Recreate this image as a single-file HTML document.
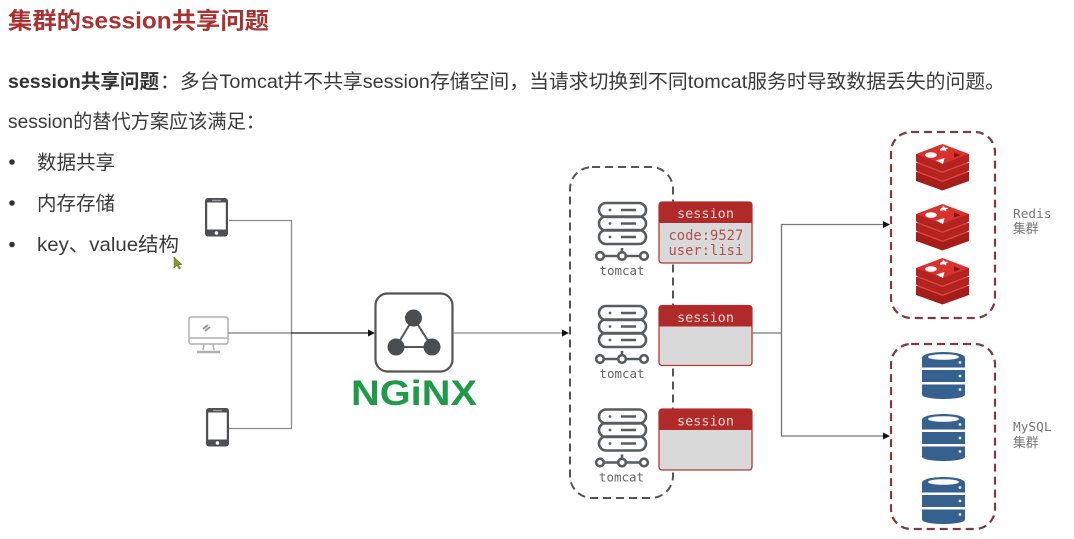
<!DOCTYPE html>
<html><head><meta charset="utf-8"><style>
html,body{margin:0;padding:0;background:#fff;width:1074px;height:539px;overflow:hidden}
svg{display:block;filter:blur(.35px)}
.s{font-family:"Liberation Sans","Noto Sans CJK SC",sans-serif}
.m{font-family:"DejaVu Sans Mono","Liberation Mono","Noto Sans CJK SC",monospace}
</style></head><body>
<svg width="1074" height="539" viewBox="0 0 1074 539" xmlns="http://www.w3.org/2000/svg">
<defs>
<g id="phone"><rect x="0" y="0" width="23" height="38.500" rx="3" fill="#4d4f52"/><rect x="2.200" y="4.500" width="18.600" height="27" fill="#fff"/><rect x="7" y="1.800" width="9" height="1.400" fill="#999"/><circle cx="11.500" cy="35" r="1.800" fill="#fff"/></g>
<g id="tom" fill="none" stroke="#595c5f" stroke-width="2.600">
<rect x="599" y="203" width="47" height="14" rx="7"/><rect x="599" y="216.500" width="47" height="14" rx="7"/><rect x="599" y="230" width="47" height="14" rx="7"/>
<path d="M622 248v4M604.500 256h13M626.500 256h13"/><circle cx="600" cy="256" r="3.800"/><circle cx="622" cy="256" r="3.800"/><circle cx="644" cy="256" r="3.800"/>
<path d="M621 210h15M621 223.500h15M621 237h15"/>
<g fill="#595c5f" stroke="none"><circle cx="610" cy="210" r="1.400"/><circle cx="610" cy="223.500" r="1.400"/><circle cx="610" cy="237" r="1.400"/></g>
</g>
<g id="redis">
<path d="M0 28v9l26.500 9.500L53 37v-9z" fill="#a51e1a"/>
<path d="M0 28l26.500-10L53 28 26.500 38z" fill="#e0443c"/>
<path d="M0 19v7.500l26.500 10 26.500-10V19z" fill="#b32420"/>
<path d="M0 19L26.500 9 53 19 26.500 29z" fill="#e0443c"/>
<path d="M0 10v7.500l26.500 10 26.500-10V10z" fill="#b32420"/>
<path d="M0 10L26.500 0 53 10 26.500 20z" fill="#d9312b"/>
<ellipse cx="15" cy="11" rx="5.800" ry="2.800" fill="#fff"/>
<path d="M24 5l2.500-1.500L27 1.500l2 2 3.500.5-2.500 1.500.5 2-3-1.200-3 .700z" fill="#fff"/>
<path d="M20 16.500l8.500-2.500-1.500 6z" fill="#fff"/>
<path d="M38 8.500l6.500 2.500-6.500 2.500z" fill="#7e1512"/>
</g>
<g id="db">
<path d="M0 6C0-2 43-2 43 6v9.500H0z" fill="#36618f"/>
<ellipse cx="21.500" cy="5" rx="15.500" ry="2.800" fill="#fff"/>
<rect x="0" y="18" width="43" height="12" fill="#36618f"/>
<path d="M0 32.500h43v10c0 6-43 6-43 0z" fill="#36618f"/>
<circle cx="38" cy="10.500" r="1.400" fill="#e6ecf3"/><circle cx="38" cy="24" r="1.400" fill="#e6ecf3"/><circle cx="38" cy="37.500" r="1.400" fill="#e6ecf3"/>
</g>
</defs>

<text class="s" x="8" y="28.500" font-size="23" font-weight="700" fill="#a83232" textLength="261" lengthAdjust="spacingAndGlyphs">集群的session共享问题</text>
<text class="s" x="8" y="88" font-size="19.500" font-weight="700" fill="#333" textLength="151" lengthAdjust="spacingAndGlyphs">session共享问题</text>
<text class="s" x="160" y="88" font-size="19.500" fill="#3a3a3a" textLength="845" lengthAdjust="spacingAndGlyphs">：多台Tomcat并不共享session存储空间，当请求切换到不同tomcat服务时导致数据丢失的问题。</text>
<text class="s" x="8" y="128" font-size="19.500" fill="#3a3a3a" textLength="257" lengthAdjust="spacingAndGlyphs">session的替代方案应该满足：</text>
<circle cx="12" cy="162" r="2.800" fill="#333"/><circle cx="12" cy="203" r="2.800" fill="#333"/><circle cx="12" cy="244.500" r="2.800" fill="#333"/>
<text class="s" x="37" y="169" font-size="19.500" fill="#3a3a3a" textLength="78">数据共享</text>
<text class="s" x="37" y="210" font-size="19.500" fill="#3a3a3a" textLength="78">内存存储</text>
<text class="s" x="37" y="251" font-size="19.500" fill="#3a3a3a" textLength="142" lengthAdjust="spacingAndGlyphs">key、value结构</text>
<path d="M174 257v11l3-2.500 2 3.500 1.500-.8-2-3.300 3.500-.4z" fill="#8a9a2a" stroke="#55601a" stroke-width=".5"/>

<!-- clients -->
<use href="#phone" x="205" y="198"/><use href="#phone" x="206" y="408"/>
<g fill="none" stroke="#b0b0b0" stroke-width="1.500">
<rect x="189" y="317" width="39" height="27" rx="2"/><path d="M189 338h39M204 344l-1 6M213 344l1 6"/><path d="M197 352h23" stroke-width="2.500"/>
<path d="M203 329l5-4M205 331l5-4" stroke="#999" stroke-width="2"/>
</g>
<path d="M229 220.500h62.500v208H229" fill="none" stroke="#8c8c8c" stroke-width="1.300"/>
<path d="M228 333h64" stroke="#7a7a7a" stroke-width="1.300"/>
<path d="M291 333h77" stroke="#222" stroke-width="1.300"/>
<path d="M368 329.500l7 3.500-7 3.500z" fill="#111"/>

<!-- nginx -->
<rect x="375.500" y="293.500" width="77" height="78" rx="12" fill="#fff" stroke="#555" stroke-width="2.200"/>
<path d="M413.500 318L396 347h36z" fill="none" stroke="#555" stroke-width="2"/>
<circle cx="413.500" cy="318" r="8.500" fill="#4b4e50"/><circle cx="396" cy="347" r="8.500" fill="#4b4e50"/><circle cx="432" cy="347" r="8.500" fill="#4b4e50"/>
<text class="s" x="351" y="405" font-size="35" font-weight="700" fill="#1f9a48" textLength="126" lengthAdjust="spacingAndGlyphs">NGiNX</text>
<path d="M453 333h110" stroke="#8c8c8c" stroke-width="1.300"/>
<path d="M562 329.500l7 3.500-7 3.500z" fill="#111"/>

<!-- tomcat group -->
<rect x="570" y="167" width="103" height="331" rx="22" fill="none" stroke="#555" stroke-width="2" stroke-dasharray="8 5"/>
<use href="#tom"/><use href="#tom" y="103"/><use href="#tom" y="206.500"/>
<g class="m" font-size="12.500" fill="#666" text-anchor="middle">
<text x="622" y="275">tomcat</text><text x="622" y="378">tomcat</text><text x="621.500" y="481.500">tomcat</text>
</g>

<g stroke="#b23a3a" stroke-width="1.300">
<rect x="659" y="202" width="93" height="61" rx="3" fill="#d9d9d9"/>
<rect x="659" y="305.500" width="93" height="60" rx="3" fill="#d9d9d9"/>
<rect x="659" y="409" width="93" height="61" rx="3" fill="#d9d9d9"/>
</g>
<g fill="#b02a2a">
<path d="M659 205a3 3 0 0 1 3-3h87a3 3 0 0 1 3 3v18h-93z"/>
<path d="M659 308.500a3 3 0 0 1 3-3h87a3 3 0 0 1 3 3v18h-93z"/>
<path d="M659 412a3 3 0 0 1 3-3h87a3 3 0 0 1 3 3v18h-93z"/>
</g>
<g class="m" font-size="13.500" fill="#f3d9d9" text-anchor="middle">
<text x="705.500" y="218">session</text><text x="705.500" y="322">session</text><text x="705.500" y="425.500">session</text>
</g>
<g class="m" font-size="13.800" fill="#b05050">
<text x="668.500" y="240">code:9527</text><text x="668.500" y="255">user:lisi</text>
</g>

<!-- right connectors -->
<path d="M752 333h29.500M883 224.500h-101.500v211.500h101.500" fill="none" stroke="#777" stroke-width="1.300"/>
<path d="M883 221l7 3.500-7 3.500zM883 432.500l7 3.500-7 3.500z" fill="#111"/>

<!-- clusters -->
<g fill="none" stroke="#7d3b44" stroke-width="2.200" stroke-dasharray="8 5">
<rect x="891" y="132" width="104" height="186" rx="20"/>
<rect x="891" y="344" width="104" height="185" rx="20"/>
</g>
<use href="#redis" x="916" y="144"/><use href="#redis" x="916" y="204"/><use href="#redis" x="916" y="258"/>
<use href="#db" x="922" y="352"/><use href="#db" x="922" y="414"/><use href="#db" x="922" y="477"/>
<g class="m" font-size="12.800" fill="#777">
<text x="1013" y="218">Redis</text><text x="1013" y="233">集群</text>
<text x="1013" y="431">MySQL</text><text x="1013" y="447">集群</text>
</g>
</svg>
</body></html>
